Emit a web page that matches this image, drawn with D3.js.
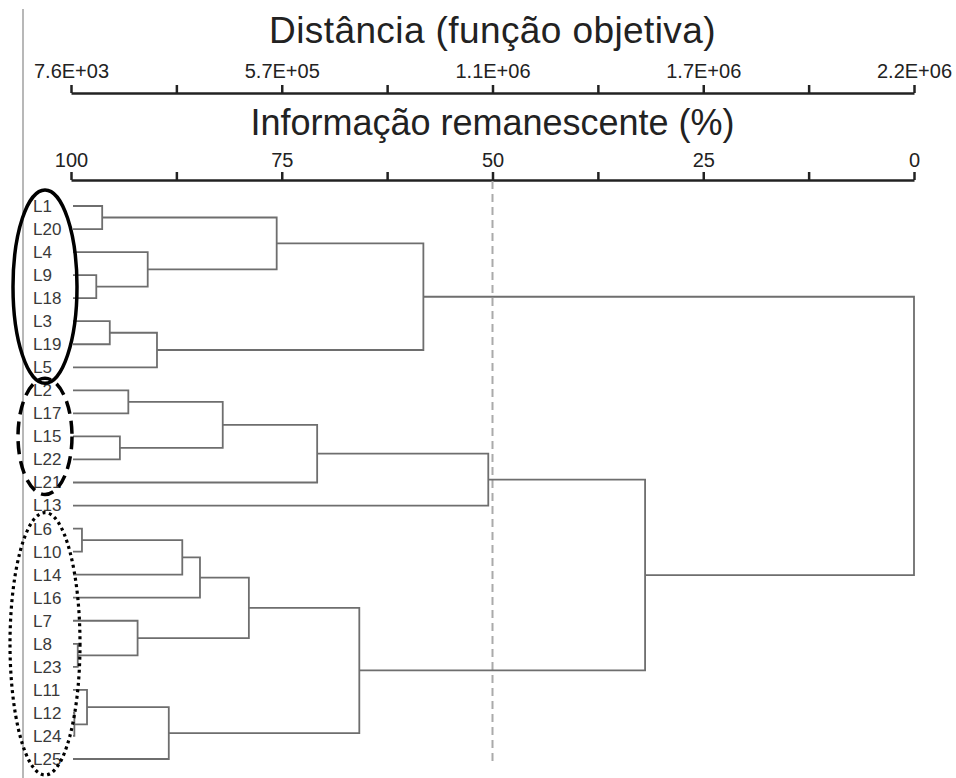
<!DOCTYPE html>
<html>
<head>
<meta charset="utf-8">
<script src="https://cdn.jsdelivr.net/npm/d3@7"></script>
<style>
  body { margin: 0; background: #fff; }
  svg { display: block; font-family: 'Liberation Sans', Arial, sans-serif; }
</style>
</head>
<body>
<div class="container"></div>
<script>
// leaf order, top to bottom
const leaves = ['L1', 'L20', 'L4', 'L9', 'L18', 'L3', 'L19', 'L5', 'L2', 'L17', 'L15', 'L22', 'L21', 'L13',
  'L6', 'L10', 'L14', 'L16', 'L7', 'L8', 'L23', 'L11', 'L12', 'L24', 'L25'];

// merges: [id, left, right, information remaining (%)]
const merges = [
  ['C1', 'L1', 'L20', 96.3],
  ['C2', 'L9', 'L18', 97.0],
  ['C3', 'L4', 'C2', 90.9],
  ['C4', 'C1', 'C3', 75.6],
  ['C5', 'L3', 'L19', 95.4],
  ['C6', 'C5', 'L5', 89.8],
  ['C7', 'C4', 'C6', 58.2],
  ['C8', 'L2', 'L17', 93.2],
  ['C9', 'L15', 'L22', 94.2],
  ['C10', 'C8', 'C9', 82.0],
  ['C11', 'C10', 'L21', 70.8],
  ['C12', 'C11', 'L13', 50.5],
  ['C13', 'L6', 'L10', 98.7],
  ['C14', 'C13', 'L14', 86.8],
  ['C15', 'C14', 'L16', 84.7],
  ['C16', 'L8', 'L23', 99.2],
  ['C17', 'L7', 'C16', 92.1],
  ['C18', 'C15', 'C17', 78.9],
  ['C19', 'L12', 'L24', 99.6],
  ['C20', 'L11', 'C19', 98.1],
  ['C21', 'C20', 'L25', 88.4],
  ['C22', 'C18', 'C21', 65.8],
  ['C23', 'C12', 'C22', 31.9],
  ['C24', 'C7', 'C23', 0],
];

const infoTicks = [100, 87.5, 75, 62.5, 50, 37.5, 25, 12.5, 0];
const infoLabels = ['100', '', '75', '', '50', '', '25', '', '0'];
const distLabels = ['7.6E+03', '', '5.7E+05', '', '1.1E+06', '', '1.7E+06', '', '2.2E+06'];

const cutLevel = 50;

// groups marked with ellipses
const groups = [
  { first: 'L1', last: 'L5', style: 'solid' },
  { first: 'L2', last: 'L21', style: 'dashed' },
  { first: 'L6', last: 'L25', style: 'dotted' },
];

const width = 956;
const height = 778;

const svg = d3.select('.container')
  .append('svg')
  .attr('width', width)
  .attr('height', height);

const x = d3.scaleLinear().domain([100, 0]).range([71, 914]);
const y = d3.scalePoint().domain(leaves).range([206, 759]);

// left border line
svg.append('line')
  .attr('x1', 23).attr('x2', 23)
  .attr('y1', 9).attr('y2', height)
  .attr('stroke', '#a0a0a0')
  .attr('stroke-width', 1.5);

// titles
svg.append('text')
  .attr('x', x(50))
  .attr('y', 43)
  .attr('text-anchor', 'middle')
  .style('font-size', '37px')
  .style('letter-spacing', '0.4px')
  .attr('fill', '#222')
  .text('Distância (função objetiva)');

svg.append('text')
  .attr('x', x(50))
  .attr('y', 135)
  .attr('text-anchor', 'middle')
  .style('font-size', '36px')
  .attr('fill', '#222')
  .text('Informação remanescente (%)');

const styleAxis = (g) => {
  g.select('.domain').attr('stroke', '#222').attr('stroke-width', 2.5);
  g.selectAll('.tick line').attr('stroke', '#222').attr('stroke-width', 2.5);
  g.selectAll('.tick text')
    .attr('fill', '#222')
    .style('font-size', '20px')
    .style('font-family', "'Liberation Sans', Arial, sans-serif");
};

const distAxis = d3.axisTop(x)
  .tickValues(infoTicks)
  .tickFormat((d, i) => distLabels[i])
  .tickSize(8)
  .tickSizeOuter(0)
  .tickPadding(7);

svg.append('g')
  .attr('id', 'dist-axis')
  .attr('transform', 'translate(0,93)')
  .call(distAxis)
  .call(styleAxis);

const infoAxis = d3.axisTop(x)
  .tickValues(infoTicks)
  .tickFormat((d, i) => infoLabels[i])
  .tickSize(8)
  .tickSizeOuter(0)
  .tickPadding(5);

svg.append('g')
  .attr('id', 'info-axis')
  .attr('transform', 'translate(0,180)')
  .call(infoAxis)
  .call(styleAxis);

// cut line at 50%
svg.append('line')
  .attr('x1', x(cutLevel)).attr('x2', x(cutLevel))
  .attr('y1', 181).attr('y2', 762)
  .attr('stroke', '#aaa')
  .attr('stroke-width', 2)
  .attr('stroke-dasharray', '8,5');

// node positions
const nodes = {};
leaves.forEach((name) => {
  nodes[name] = { x: x(100) + 2, y: y(name) };
});
merges.forEach(([id, a, b, info]) => {
  nodes[id] = { x: x(info), y: (nodes[a].y + nodes[b].y) / 2 };
});

const links = svg.append('g').attr('id', 'dendrogram');
merges.forEach(([id, a, b, info]) => {
  const p = nodes[id];
  const na = nodes[a];
  const nb = nodes[b];
  links.append('path')
    .attr('d', `M${na.x},${na.y}H${p.x}V${nb.y}H${nb.x}`)
    .attr('fill', 'none')
    .attr('stroke', '#6e6e6e')
    .attr('stroke-width', 1.8);
});

// leaf labels
svg.append('g')
  .selectAll('text')
  .data(leaves)
  .enter()
  .append('text')
  .attr('x', 33)
  .attr('y', (d) => y(d))
  .attr('dy', '0.35em')
  .style('font-size', '17px')
  .attr('fill', '#3a3a3a')
  .text((d) => d);

// group ellipses
const dashes = { solid: null, dashed: '13,7', dotted: '3,3.5' };
svg.append('g')
  .selectAll('ellipse')
  .data(groups)
  .enter()
  .append('ellipse')
  .attr('cx', 45)
  .attr('cy', (d) => (y(d.first) + y(d.last)) / 2)
  .attr('rx', (d) => (d.style === 'dashed' ? 27 : d.style === 'dotted' ? 35 : 32))
  .attr('ry', (d) => (y(d.last) - y(d.first)) / 2 + (d.style === 'dashed' ? 12 : 16))
  .attr('fill', 'none')
  .attr('stroke', '#000')
  .attr('stroke-width', (d) => (d.style === 'dotted' ? 3.2 : 3.5))
  .attr('stroke-dasharray', (d) => dashes[d.style]);
</script>
</body>
</html>
